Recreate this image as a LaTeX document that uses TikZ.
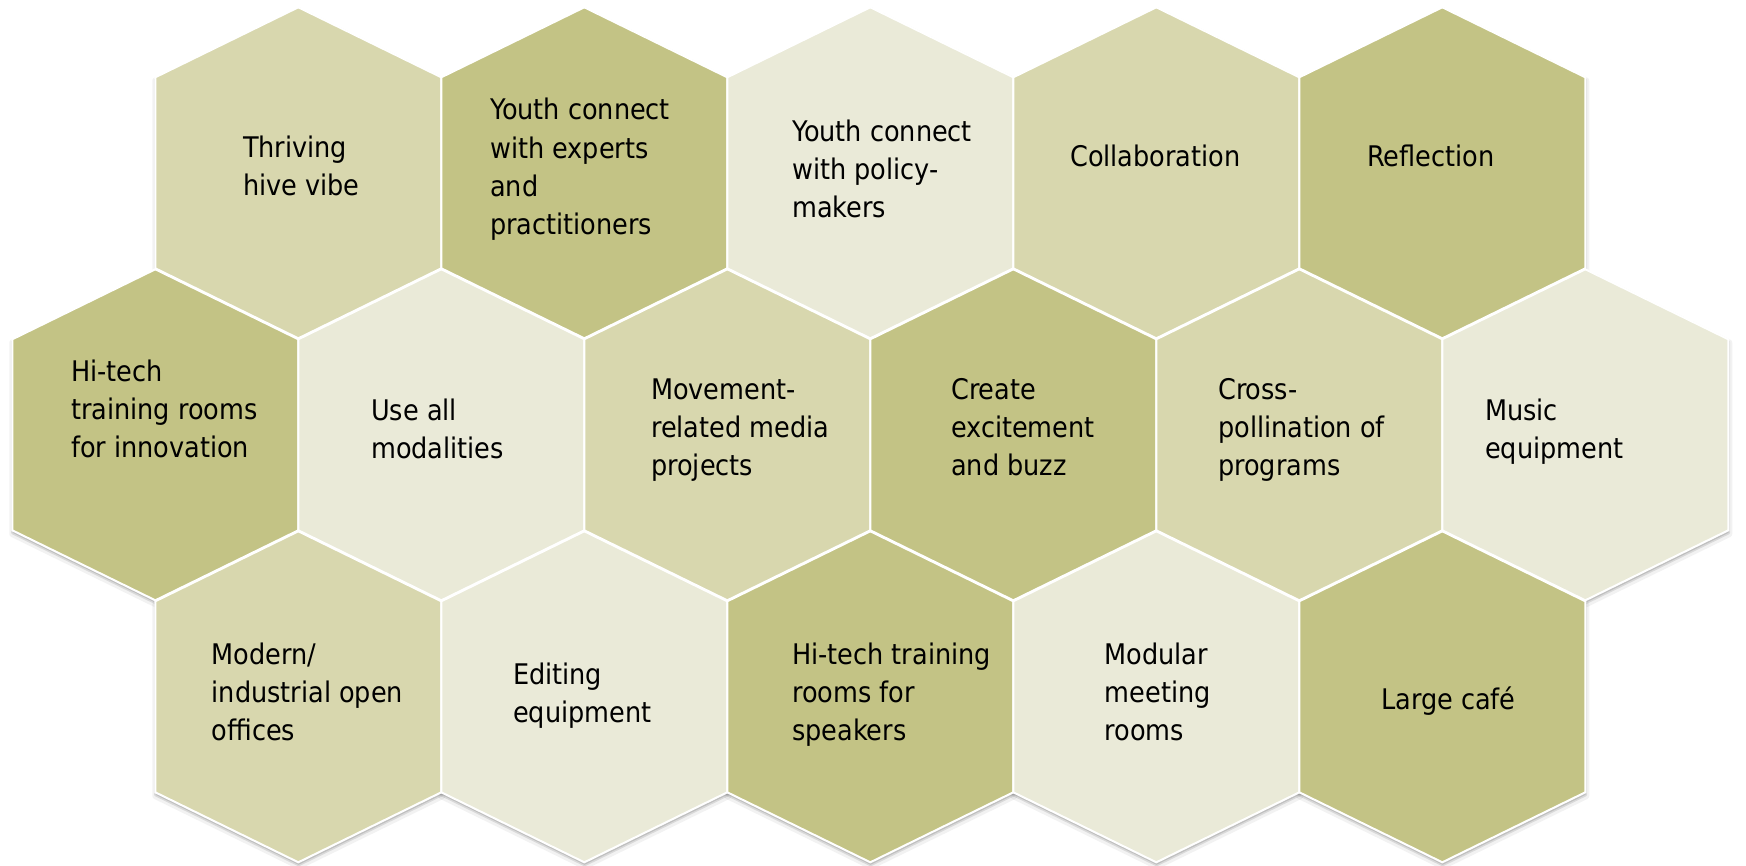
\documentclass[tikz,border=0pt]{standalone}
\usepackage{fontspec}
\setmainfont{DejaVu Sans Condensed}
\definecolor{hexmid}{RGB}{216,215,174}
\definecolor{hexdark}{RGB}{195,195,133}
\definecolor{hexlight}{RGB}{234,234,216}
\newcommand{\hexshape}[3]{\path[#3] (#1,#2) +(0,-165.5) -- +(143,-95.5) -- +(143,95.5) -- +(0,165.5) -- +(-143,95.5) -- +(-143,-95.5) -- cycle;}
\newcommand{\hexshadow}[2]{%
  \hexshape{#1}{#2}{shift={(0.5,3.5)}, draw=black, draw opacity=0.05, line width=7pt, line join=round}%
  \hexshape{#1}{#2}{shift={(0.3,2.5)}, fill=black, fill opacity=0.12, draw=black, draw opacity=0.10, line width=3pt, line join=round}%
}
\tikzset{
  hexborder/.style={draw=white, line width=2pt, line join=miter},
  celltext/.style={anchor=west, inner sep=0pt, align=left, text=black,
    font=\fontsize{28.4}{38.3}\selectfont},
}
\begin{document}
\begin{tikzpicture}[x=1pt, y=-1pt]
\useasboundingbox (0,0) rectangle (1746,865);
% shadows
\foreach \cx in {298.3,584.3,870.3,1156.3,1442.3}{\hexshadow{\cx}{172.8}}
\foreach \cx in {155.3,441.3,727.3,1013.3,1299.3,1585.3}{\hexshadow{\cx}{434.8}}
\foreach \cx in {298.3,584.3,870.3,1156.3,1442.3}{\hexshadow{\cx}{696.8}}
% top row
\hexshape{298.3}{172.8}{fill=hexmid, hexborder}
\hexshape{584.3}{172.8}{fill=hexdark, hexborder}
\hexshape{870.3}{172.8}{fill=hexlight, hexborder}
\hexshape{1156.3}{172.8}{fill=hexmid, hexborder}
\hexshape{1442.3}{172.8}{fill=hexdark, hexborder}
% middle row
\hexshape{155.3}{434.8}{fill=hexdark, hexborder}
\hexshape{441.3}{434.8}{fill=hexlight, hexborder}
\hexshape{727.3}{434.8}{fill=hexmid, hexborder}
\hexshape{1013.3}{434.8}{fill=hexdark, hexborder}
\hexshape{1299.3}{434.8}{fill=hexmid, hexborder}
\hexshape{1585.3}{434.8}{fill=hexlight, hexborder}
% bottom row
\hexshape{298.3}{696.8}{fill=hexmid, hexborder}
\hexshape{584.3}{696.8}{fill=hexlight, hexborder}
\hexshape{870.3}{696.8}{fill=hexdark, hexborder}
\hexshape{1156.3}{696.8}{fill=hexlight, hexborder}
\hexshape{1442.3}{696.8}{fill=hexdark, hexborder}
% texts
\node[celltext] (t1) at (243,169) {\strut Thriving\\\strut hive vibe};
\node[celltext] (t2) at (490,169.5) {\strut Youth connect\\\strut with experts\\\strut and\\\strut practitioners};
\node[celltext] (t3) at (792,172) {\strut Youth connect\\\strut with policy-\\\strut makers};
\node[celltext] (t4) at (1070,159) {\strut Collaboration};
\node[celltext] (t5) at (1367,159) {\strut Reflection};
\node[celltext] (m1) at (71,412) {\strut Hi-tech\\\strut training rooms\\\strut for innovation};
\node[celltext] (m2) at (371,431.5) {\strut Use all\\\strut modalities};
\node[celltext] (m3) at (651,430) {\strut Movement-\\\strut related media\\\strut projects};
\node[celltext] (m4) at (951,430) {\strut Create\\\strut excitement\\\strut and buzz};
\node[celltext] (m5) at (1218,430) {\strut Cross-\\\strut pollination of\\\strut programs};
\node[celltext] (m6) at (1485,431.5) {\strut Music\\\strut equipment};
\node[celltext] (b1) at (211.6,695) {\strut Modern/\\\strut industrial open\\\strut offices};
\node[celltext] (b2) at (513,696) {\strut Editing\\\strut equipment};
\node[celltext] (b3) at (792,695) {\strut Hi-tech training\\\strut rooms for\\\strut speakers};
\node[celltext] (b4) at (1104.6,695) {\strut Modular\\\strut meeting\\\strut rooms};
\node[celltext] (b5) at (1381,702) {\strut Large café};
\end{tikzpicture}
\end{document}
